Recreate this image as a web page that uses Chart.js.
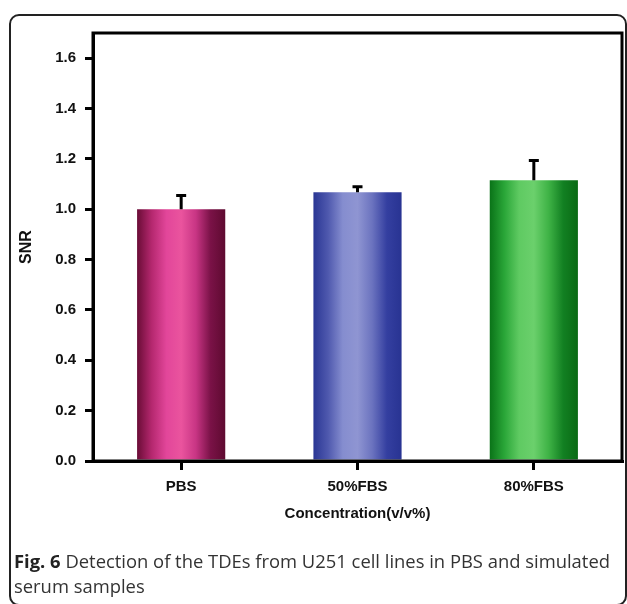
<!DOCTYPE html>
<html>
<head>
<meta charset="utf-8">
<script src="https://cdn.jsdelivr.net/npm/chart.js@4/dist/chart.umd.min.js"></script>
<style>
  html, body { margin: 0; padding: 0; background: #fff; }
  #wrap { position: relative; width: 627px; height: 604px; overflow: hidden; }
  #frame { position: absolute; left: 9px; top: 14px; width: 614px; height: 588px;
           border: 2px solid #222; border-radius: 10px; }
  #chart { position: absolute; left: 0; top: 0; }
  #caption { position: absolute; left: 14px; top: 548px; width: 606px;
             font-family: "Open Sans", sans-serif; font-size: 18.4px; line-height: 25px; color: #333; }
  #caption b { color: #222; }
</style>
</head>
<body>
<div id="wrap">
  <div id="frame"></div>
  <canvas id="chart" width="627" height="604"></canvas>
  <div id="caption"><b>Fig. 6</b> Detection of the TDEs from U251 cell lines in PBS and simulated serum samples</div>
</div>
<script>
const categories = ["PBS", "50%FBS", "80%FBS"];
const snrValues = [1.0, 1.067, 1.115];
const snrErrors = [0.055, 0.022, 0.079];
const yTicks = [0, 0.2, 0.4, 0.6, 0.8, 1.0, 1.2, 1.4, 1.6];
const xTitle = "Concentration(v/v%)";
const yTitle = "SNR";

const barGradients = [
  ["#6a0c36", "#b5286f", "#e2469a", "#ea549e", "#c83584", "#7a1247", "#5e0a30"],
  ["#2a3694", "#4f59ae", "#858dcf", "#8f95d2", "#6b73bf", "#343fa0", "#283392"],
  ["#0a7318", "#2aa638", "#5fca62", "#6bd06c", "#3fb346", "#128022", "#0a6a14"]
];

const tickFont = { family: "'Liberation Sans', Arial, sans-serif", size: 15, weight: "bold" };
const yTitleFont = { family: "'Liberation Sans', Arial, sans-serif", size: 16, weight: "bold" };

function barFill(ctx) {
  const chart = ctx.chart;
  const area = chart.chartArea;
  const i = ctx.dataIndex;
  const stops = barGradients[i];
  if (!area) return stops[3];
  const xs = chart.scales.x;
  const cx = xs.getPixelForValue(i);
  const half = (area.right - area.left) / categories.length * 0.5 / 2;
  const g = chart.ctx.createLinearGradient(cx - half, 0, cx + half, 0);
  stops.forEach((c, k) => g.addColorStop(k / (stops.length - 1), c));
  return g;
}

const boxAndErrors = {
  id: "boxAndErrors",
  afterDatasetsDraw(chart) {
    const c = chart.ctx, a = chart.chartArea;
    const xs = chart.scales.x, ys = chart.scales.y;
    c.save();
    c.strokeStyle = "#000";
    c.lineWidth = 3;
    snrValues.forEach((v, i) => {
      const x = xs.getPixelForValue(i);
      const yTop = ys.getPixelForValue(v);
      const yErr = ys.getPixelForValue(v + snrErrors[i]);
      c.beginPath();
      c.moveTo(x, yTop);
      c.lineTo(x, yErr);
      c.moveTo(x - 5, yErr);
      c.lineTo(x + 5, yErr);
      c.stroke();
    });
    c.lineWidth = 3;
    c.strokeRect(a.left, a.top, a.right - a.left, a.bottom - a.top);
    c.restore();
  }
};

new Chart(document.getElementById("chart"), {
  type: "bar",
  data: {
    labels: categories,
    datasets: [{
      data: snrValues,
      backgroundColor: barFill,
      borderWidth: 0,
      categoryPercentage: 1.0,
      barPercentage: 0.5
    }]
  },
  options: {
    responsive: false,
    animation: false,
    devicePixelRatio: 1,
    layout: { padding: { left: 10, top: 33, right: 5, bottom: 73 } },
    plugins: { legend: { display: false }, tooltip: { enabled: false } },
    scales: {
      x: {
        grid: { display: true, drawOnChartArea: false, offset: false, tickLength: 9, color: "#000", lineWidth: 3 },
        border: { display: true, color: "#000", width: 3 },
        ticks: { color: "#111", font: tickFont, padding: 8, maxRotation: 0 },
        title: { display: true, text: xTitle, color: "#111", font: tickFont, padding: { top: 0, bottom: 8 } },
        afterFit(s) { s.height = 70; }
      },
      y: {
        min: 0,
        max: 1.7,
        afterBuildTicks(s) { s.ticks = yTicks.map(v => ({ value: v })); },
        grid: { display: true, drawOnChartArea: false, tickLength: 8, color: "#000", lineWidth: 3 },
        border: { display: true, color: "#000", width: 3 },
        ticks: { color: "#111", font: tickFont, padding: 9, callback: v => Number(v).toFixed(1) },
        title: { display: true, text: yTitle, color: "#111", font: yTitleFont, padding: { top: 7, bottom: 0 } },
        afterFit(s) { s.width = 83; }
      }
    }
  },
  plugins: [boxAndErrors]
});
</script>
</body>
</html>
